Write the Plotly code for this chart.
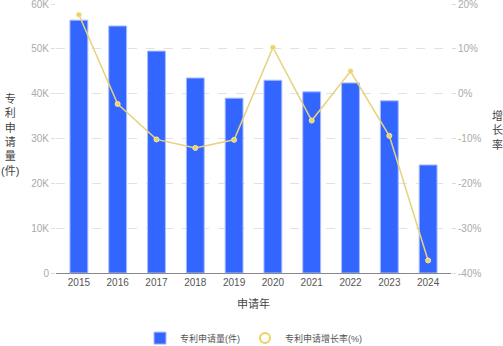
import plotly.graph_objects as go

years = ["2015", "2016", "2017", "2018", "2019", "2020", "2021", "2022", "2023", "2024"]
applications = [56400, 55100, 49500, 43500, 39000, 43000, 40400, 42400, 38400, 24100]
growth_pct = [17.6, -2.3, -10.2, -12.1, -10.3, 10.3, -6.0, 5.0, -9.4, -37.2]

left_ticks = [0, 10000, 20000, 30000, 40000, 50000, 60000]
left_labels = ["0", "10K", "20K", "30K", "40K", "50K", "60K"]
right_ticks = [-40, -30, -20, -10, 0, 10, 20]
right_labels = ["-40%", "-30%", "-20%", "-10%", "0%", "10%", "20%"]

FONT = "Liberation Sans, Arial, Noto Sans CJK SC, sans-serif"
BAR_COLOR = "#3366ff"
LINE_COLOR = "#e6d27a"

fig = go.Figure()

fig.add_trace(go.Bar(
    x=years, y=applications, name="专利申请量(件)",
    marker=dict(color=BAR_COLOR, line=dict(color="#a9bcff", width=1)),
    yaxis="y",
))

fig.add_trace(go.Scatter(
    x=years, y=growth_pct, name="专利申请增长率(%)",
    mode="lines+markers",
    line=dict(color=LINE_COLOR, width=1.5),
    marker=dict(size=5, color="#ead46a", line=dict(color="#f3e6a8", width=1)),
    yaxis="y2", showlegend=False, cliponaxis=False,
))

# legend entry drawn as a hollow circle
fig.add_trace(go.Scatter(
    x=[None], y=[None], name="专利申请增长率(%)", mode="markers",
    marker=dict(size=10, symbol="circle-open", color="#ecd35c", line=dict(width=2)),
    yaxis="y2",
))

fig.update_layout(
    width=503, height=346,
    margin=dict(l=56, r=52, t=4, b=73, autoexpand=False),
    paper_bgcolor="white", plot_bgcolor="white",
    font=dict(family=FONT, size=10, color="#555"),
    bargap=0.54,
    showlegend=True,
    legend=dict(orientation="h", x=0.5, xanchor="center", y=-0.242, yanchor="middle",
                font=dict(size=9, color="#555"), itemwidth=30, tracegroupgap=0),
    xaxis=dict(
        type="category", showline=True, linecolor="#888", linewidth=1,
        ticks="", tickfont=dict(size=10, color="#555"), showgrid=False,
    ),
    yaxis=dict(
        range=[0, 60000], tickvals=left_ticks, ticktext=left_labels,
        showgrid=True, gridcolor="#e2e2e2", griddash="dash", gridwidth=1,
        zeroline=False, ticks="outside", ticklen=4, tickcolor="#ddd",
        tickfont=dict(size=10, color="#aaa"), ticklabeloverflow="allow",
    ),
    yaxis2=dict(
        range=[-40, 20], tickvals=right_ticks, ticktext=right_labels,
        overlaying="y", side="right", showgrid=False, zeroline=False,
        ticks="outside", ticklen=4, tickcolor="#ddd",
        tickfont=dict(size=10, color="#aaa"), ticklabeloverflow="allow",
    ),
    annotations=[
        dict(text="申请年", xref="paper", yref="paper", x=0.5, y=-0.08, yanchor="top",
             showarrow=False, font=dict(size=11, color="#444")),
        dict(text="专<br>利<br>申<br>请<br>量<br>(件)", xref="paper", yref="paper",
             x=(10 - 56) / 395, y=(273 - 134) / 269, xanchor="center", yanchor="middle",
             showarrow=False, font=dict(size=11, color="#444")),
        dict(text="增<br>长<br>率", xref="paper", yref="paper",
             x=(497 - 56) / 395, y=(273 - 130) / 269, xanchor="center", yanchor="middle",
             showarrow=False, font=dict(size=11, color="#444")),
    ],
)

fig.write_html("out.html")
